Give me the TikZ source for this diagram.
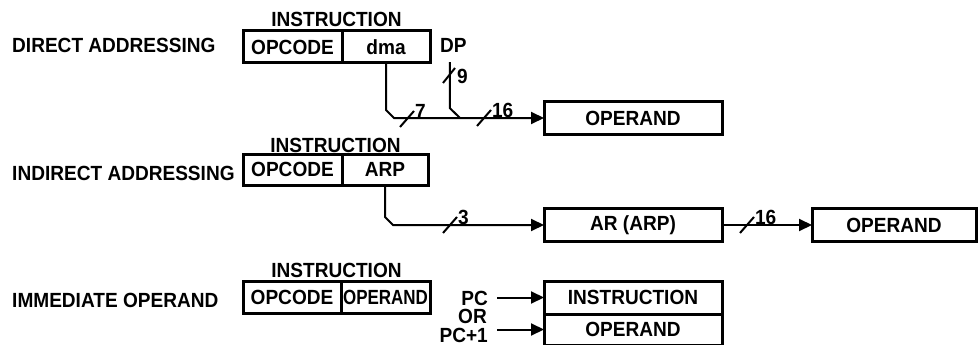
\documentclass[tikz,border=0pt]{standalone}
\usepackage{fontspec}
\usepackage{graphicx}
\setmainfont{Liberation Sans}[FakeStretch=0.93]
\usetikzlibrary{arrows.meta,positioning}
\begin{document}
\begin{tikzpicture}[x=1pt,y=-1pt,font=\fontsize{20.5}{24}\selectfont\bfseries,
  txt/.style={inner sep=0pt},
  cell/.style={draw,line width=3pt,inner sep=0pt,outer sep=0pt,minimum height=32pt},
  box/.style={draw,line width=3pt,inner sep=0pt,outer sep=0pt,minimum width=178pt,minimum height=33pt},
  bus/.style={line width=2pt},
  arr/.style={bus,-{Triangle[length=13pt,width=12pt]}},
  bits/.style={inner sep=0pt,anchor=west}]
\useasboundingbox (0,0) rectangle (980,345);
\node[txt,anchor=base west] (dirl) at (12,53) {DIRECT ADDRESSING};
\node[cell,minimum width=99pt] (op1) at (292.5,47) {OPCODE};
\node[cell,minimum width=88pt,right=0pt of op1] (dma1) {dma};
\node[txt,anchor=base] (ins1) at (336.5,27) {INSTRUCTION};
\node[txt,anchor=base west] (dp) at (440,53) {DP};
\node[box] (opA) at (633,118) {OPERAND};
\coordinate (jn) at (460,118);
\draw[arr] (dma1.south) -- ++(0,47) -- ++(8,8) -- (opA.west);
\draw[bus] ([xshift=-3.5pt,yshift=-9pt]dp.south) -- ++(0,46) -- (jn);
\draw[bus] (443,83) -- (455,68);
\node[bits] (w9) at (457,76) {9};
\node[txt,anchor=base west] (indl) at (12,180) {INDIRECT ADDRESSING};
\node[cell,minimum width=99pt,minimum height=31pt] (op2) at (292.5,169.5) {OPCODE};
\node[cell,minimum width=86pt,minimum height=31pt,right=0pt of op2] (arp2) {ARP};
\node[txt,anchor=base] (ins2) at (335.5,152) {INSTRUCTION};
\node[box] (arB) at (633,225) {AR (ARP)};
\node[box,minimum width=164pt] (opB) at (894,225) {OPERAND};
\draw[arr] (arp2.south) -- ++(0,32) -- ++(8,8) -- (arB.west);
\draw[arr] (arB) -- (opB);
\foreach \x/\y/\n in {407/119/7,484/118/16,450/225/3,747/225/16}
  \draw[bus] (\x-7,\y+8) -- (\x+7,\y-8) node[bits] {\n};
\node[txt,anchor=base west] (imml) at (12,307) {IMMEDIATE OPERAND};
\node[cell,minimum width=98pt] (op3) at (292,297) {OPCODE};
\node[cell,minimum width=89pt,right=0pt of op3] (opnd3) {\scalebox{0.89}[1]{OPERAND}};
\node[txt,anchor=base] (ins3) at (336.5,277) {INSTRUCTION};
\node[box] (insC) at (633,297.5) {INSTRUCTION};
\node[box,minimum height=31pt,below=0pt of insC] (opC) {OPERAND};
\node[txt,anchor=base east] (pc) at (488,305) {PC};
\node[txt,anchor=base east] (orl) at (487,323) {OR};
\node[txt,anchor=base east] (pc1) at (488,342) {PC+1};
\draw[arr,shorten <=9pt] (pc.east |- insC.west) -- (insC.west);
\draw[arr,shorten <=9pt] (pc1.east |- opC.west) -- (opC.west);
\end{tikzpicture}
\end{document}
